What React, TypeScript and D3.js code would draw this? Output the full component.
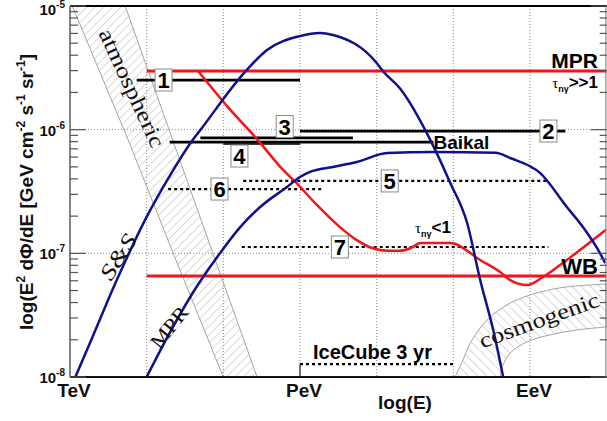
import { useEffect, useRef } from "react"
import * as d3 from "d3"

// x values are log10(E / GeV), y values are E^2 dPhi/dE in GeV cm^-2 s^-1 sr^-1

// S&S model (blue hump)
const ssLogE = [3.07, 3.26, 3.61, 4.0, 4.27, 4.6, 4.7, 5.28, 5.57, 6.0, 6.26, 6.43, 7.0, 7.08, 7.3, 7.7, 7.96, 8.18, 8.35, 8.52, 8.65]
const ssFlux = [1.0e-8, 1.88e-8, 6.08e-8, 1.97e-7, 3.92e-7, 8.24e-7, 9.93e-7, 2.92e-6, 4.41e-6, 5.71e-6, 6.05e-6, 5.83e-6, 3.46e-6, 2.98e-6, 2.17e-6, 8.24e-7, 3.71e-7, 1.76e-7, 6.08e-8, 2.4e-8, 1.0e-8]

// MPR model (lower blue)
const mprLogE = [4.0, 4.3, 4.6, 4.92, 5.22, 5.48, 5.83, 6.0, 6.13, 6.43, 6.74, 7.14, 7.74, 8.55, 8.74, 9.13, 9.48, 9.69, 9.91, 9.98]
const mprFlux = [1.0e-8, 2.27e-8, 4.78e-8, 9.33e-8, 1.63e-7, 2.37e-7, 3.44e-7, 4.14e-7, 4.55e-7, 4.99e-7, 5.48e-7, 6.47e-7, 6.59e-7, 6.5e-7, 5.9e-7, 4.47e-7, 2.37e-7, 1.63e-7, 1.01e-7, 8.36e-8]

// MPR bound for tau_ny < 1 (red curve)
const tauLogE = [4.67, 5.06, 5.45, 5.78, 5.94, 6.22, 6.52, 6.74, 6.95, 7.14, 7.3, 7.44, 7.57, 7.96, 8.35, 8.61, 8.74, 8.96, 9.17, 9.48, 9.82, 9.99]
const tauFlux = [2.98e-6, 1.52e-6, 8.24e-7, 4.72e-7, 3.78e-7, 2.46e-7, 1.63e-7, 1.28e-7, 1.1e-7, 1.05e-7, 1.05e-7, 1.1e-7, 1.21e-7, 1.21e-7, 8.83e-8, 7.06e-8, 6.08e-8, 5.55e-8, 6.44e-8, 8.83e-8, 1.28e-7, 1.55e-7]

// flat bounds (red horizontal)
const boundNames = ["MPR", "WB"]
const boundFrom = [4.0, 4.0]
const boundTo = [10.0, 10.0]
const boundFlux = [2.98e-6, 6.56e-8]

// experimental limits (black)
const limitNames = ["1", "2", "3", "4", "Baikal", "5", "6", "7", "IceCube 3 yr"]
const limitFrom = [3.87, 6.0, 4.7, 5.0, 4.3, 5.26, 4.28, 5.24, 6.0]
const limitTo = [6.0, 9.46, 6.69, 6.0, 7.74, 9.22, 6.3, 9.24, 8.0]
const limitFlux = [2.52e-6, 9.75e-7, 8.57e-7, 7.72e-7, 7.94e-7, 3.85e-7, 3.31e-7, 1.125e-7, 1.27e-8]

// atmospheric band edges
const atmoLeftLogE = [3.03, 3.76, 4.33, 5.0]
const atmoLeftFlux = [1.0e-5, 8.24e-7, 1.06e-7, 1.0e-8]
const atmoRightLogE = [3.72, 4.34, 4.85, 5.44]
const atmoRightFlux = [1.0e-5, 8.24e-7, 1.06e-7, 1.0e-8]

// cosmogenic band edges
const cosmoUpperLogE = [8.02, 8.11, 8.22, 8.44, 8.74, 9.13, 9.48, 10.0]
const cosmoUpperFlux = [1.0e-8, 1.3e-8, 1.88e-8, 2.89e-8, 3.96e-8, 4.86e-8, 5.35e-8, 5.65e-8]
const cosmoLowerLogE = [8.61, 8.64, 8.74, 8.96, 9.26, 9.61, 10.0]
const cosmoLowerFlux = [1.0e-8, 1.21e-8, 1.56e-8, 1.92e-8, 2.19e-8, 2.4e-8, 2.54e-8]

// axis labels
const xTickLogE = [3, 6, 9]
const xTickLabels = ["TeV", "PeV", "EeV"]
const yDecades = [-8, -7, -6, -5]

const zip = (a: number[], b: number[]) => a.map((v, i) => [v, b[i]] as [number, number])

export default function App() {
  const svgRef = useRef<SVGSVGElement>(null)

  useEffect(() => {
    if (!svgRef.current) return
    const svg = d3.select(svgRef.current)
    svg.selectAll("*").remove()

    const left = 70
    const right = 606.7
    const top = 6
    const bottom = 377

    const x = d3.scaleLinear().domain([3, 10]).range([left, right])
    const y = d3.scaleLog().domain([1e-8, 1e-5]).range([bottom, top])

    const sans = "'Liberation Sans', Arial, sans-serif"
    const serif = "'Liberation Serif', 'Times New Roman', serif"
    const red = "#f2161c"
    const blue = "#10108c"

    const defs = svg.append("defs")
    defs
      .append("clipPath")
      .attr("id", "plot-clip")
      .append("rect")
      .attr("x", left)
      .attr("y", top)
      .attr("width", right - left)
      .attr("height", bottom - top)

    const hatch = (id: string, angle: number, size: number) => {
      const p = defs
        .append("pattern")
        .attr("id", id)
        .attr("patternUnits", "userSpaceOnUse")
        .attr("width", size)
        .attr("height", size)
        .attr("patternTransform", `rotate(${angle})`)
      p.append("line")
        .attr("x1", 0)
        .attr("y1", 0)
        .attr("x2", 0)
        .attr("y2", size)
        .attr("stroke", "#a0a0a0")
        .attr("stroke-width", 0.8)
    }
    hatch("hatch-atmo", 45, 6)
    hatch("hatch-cosmo", -45, 6.5)

    // grid
    const grid = svg.append("g")
    d3.range(4, 10).forEach((e) => {
      grid
        .append("line")
        .attr("x1", x(e))
        .attr("x2", x(e))
        .attr("y1", top)
        .attr("y2", bottom)
        .attr("stroke", "#8c8c8c")
        .attr("stroke-width", 1)
        .attr("stroke-dasharray", "1,2")
    })
    ;[1e-7, 1e-6].forEach((v) => {
      grid
        .append("line")
        .attr("x1", left)
        .attr("x2", right)
        .attr("y1", y(v))
        .attr("y2", y(v))
        .attr("stroke", "#8c8c8c")
        .attr("stroke-width", 1)
        .attr("stroke-dasharray", "1,2")
    })

    const plot = svg.append("g").attr("clip-path", "url(#plot-clip)")

    // hatched bands
    const linPoly = d3
      .line<[number, number]>()
      .x((d) => x(d[0]))
      .y((d) => y(d[1]))

    const atmo = [...zip(atmoLeftLogE, atmoLeftFlux), ...zip(atmoRightLogE, atmoRightFlux).reverse()]
    plot
      .append("path")
      .attr("d", linPoly(atmo) + "Z")
      .attr("fill", "url(#hatch-atmo)")
      .attr("stroke", "#a3a3a3")
      .attr("stroke-width", 1)

    const edge = d3
      .line<[number, number]>()
      .x((d) => x(d[0]))
      .y((d) => y(d[1]))
      .curve(d3.curveCatmullRom.alpha(0.5))
    const upper = edge(zip(cosmoUpperLogE, cosmoUpperFlux)) as string
    const lower = edge(zip(cosmoLowerLogE, cosmoLowerFlux).reverse()) as string
    plot
      .append("path")
      .attr("d", upper + "L" + lower.slice(1) + "Z")
      .attr("fill", "url(#hatch-cosmo)")
      .attr("stroke", "#a3a3a3")
      .attr("stroke-width", 1)

    // serif labels on bands / curves
    const serifLabel = (t: string, cx: number, cy: number, angle: number, size: number, len: number, italic = false) => {
      svg
        .append("text")
        .attr("transform", `translate(${cx},${cy}) rotate(${angle})`)
        .attr("text-anchor", "middle")
        .attr("dominant-baseline", "central")
        .attr("font-family", serif)
        .attr("font-size", size)
        .attr("font-style", italic ? "italic" : "normal")
        .attr("textLength", len)
        .attr("lengthAdjust", "spacingAndGlyphs")
        .attr("fill", "#111")
        .text(t)
    }
    serifLabel("atmospheric", 132, 88, 65.2, 22, 128)
    serifLabel("S&S", 118, 257, -57.5, 22, 50, true)
    serifLabel("MPR", 169, 327, -50.6, 20, 48)
    serifLabel("cosmogenic", 539, 320, -19.8, 22, 126)

    // black limits
    const dotted = new Set(["5", "6", "7", "IceCube 3 yr"])
    limitNames.forEach((n, i) => {
      plot
        .append("line")
        .attr("x1", x(limitFrom[i]))
        .attr("x2", x(limitTo[i]))
        .attr("y1", y(limitFlux[i]))
        .attr("y2", y(limitFlux[i]))
        .attr("stroke", n === "4" ? "#3a3a3a" : "#000")
        .attr("stroke-width", dotted.has(n) ? 2.2 : 2.8)
        .attr("stroke-dasharray", dotted.has(n) ? "3,3" : null)
    })
    // IceCube step down to the axis
    plot
      .append("line")
      .attr("x1", x(6))
      .attr("x2", x(6))
      .attr("y1", y(limitFlux[8]))
      .attr("y2", bottom)
      .attr("stroke", "#222")
      .attr("stroke-width", 1.2)

    // red bounds
    boundNames.forEach((n, i) => {
      plot
        .append("line")
        .attr("x1", x(boundFrom[i]))
        .attr("x2", x(boundTo[i]))
        .attr("y1", y(boundFlux[i]))
        .attr("y2", y(boundFlux[i]))
        .attr("stroke", red)
        .attr("stroke-width", 2.8)
        .attr("data-name", n)
    })

    const curve = d3
      .line<[number, number]>()
      .x((d) => x(d[0]))
      .y((d) => y(d[1]))
      .curve(d3.curveMonotoneX)

    plot
      .append("path")
      .attr("d", curve(zip(tauLogE, tauFlux)))
      .attr("fill", "none")
      .attr("stroke", red)
      .attr("stroke-width", 2.5)

    plot
      .append("path")
      .attr("d", curve(zip(ssLogE, ssFlux)))
      .attr("fill", "none")
      .attr("stroke", blue)
      .attr("stroke-width", 2.5)

    plot
      .append("path")
      .attr("d", curve(zip(mprLogE, mprFlux)))
      .attr("fill", "none")
      .attr("stroke", blue)
      .attr("stroke-width", 2.5)

    // frame and axes
    svg.append("line").attr("x1", left).attr("x2", right).attr("y1", top).attr("y2", top).attr("stroke", "#000").attr("stroke-width", 2)
    svg.append("line").attr("x1", left).attr("x2", right).attr("y1", bottom).attr("y2", bottom).attr("stroke", "#111").attr("stroke-width", 2)
    svg.append("line").attr("x1", left).attr("x2", left).attr("y1", top).attr("y2", bottom).attr("stroke", "#666").attr("stroke-width", 1.6)
    svg.append("line").attr("x1", right - 0.8).attr("x2", right - 0.8).attr("y1", top).attr("y2", bottom).attr("stroke", "#888").attr("stroke-width", 1.2)

    const ticks = svg.append("g").attr("stroke", "#555").attr("stroke-width", 1.2)
    yDecades.forEach((d) => {
      const major = y(Math.pow(10, d))
      ticks.append("line").attr("x1", left).attr("x2", left + 16).attr("y1", major).attr("y2", major)
      ticks.append("line").attr("x1", right).attr("x2", right - 16).attr("y1", major).attr("y2", major)
      if (d === -5) return
      d3.range(2, 10).forEach((m) => {
        const yy = y(m * Math.pow(10, d))
        ticks.append("line").attr("x1", left).attr("x2", left + 8).attr("y1", yy).attr("y2", yy)
        ticks.append("line").attr("x1", right).attr("x2", right - 7).attr("y1", yy).attr("y2", yy)
      })
    })

    // y tick labels (top one nudged down so it stays inside the picture)
    yDecades.forEach((d) => {
      const t = svg
        .append("text")
        .attr("x", 65)
        .attr("y", y(Math.pow(10, d)) + (d === -5 ? 9 : 6))
        .attr("text-anchor", "end")
        .attr("font-family", sans)
        .attr("font-weight", "bold")
        .attr("font-size", 15)
        .attr("fill", "#111")
      t.append("tspan").text("10")
      t.append("tspan").attr("dy", -7).attr("font-size", 10).text(String(d))
    })

    // x tick labels
    xTickLogE.forEach((e, i) => {
      svg
        .append("text")
        .attr("x", x(e) + 4)
        .attr("y", 397)
        .attr("text-anchor", "middle")
        .attr("font-family", sans)
        .attr("font-weight", "bold")
        .attr("font-size", 19)
        .attr("fill", "#111")
        .text(xTickLabels[i])
    })

    svg
      .append("text")
      .attr("x", 405)
      .attr("y", 409)
      .attr("text-anchor", "middle")
      .attr("font-family", sans)
      .attr("font-weight", "bold")
      .attr("font-size", 19)
      .attr("fill", "#111")
      .text("log(E)")

    // y title
    const yt = svg
      .append("text")
      .attr("transform", "translate(33,192) rotate(-90)")
      .attr("text-anchor", "middle")
      .attr("font-family", sans)
      .attr("font-weight", "bold")
      .attr("font-size", 19)
      .attr("fill", "#111")
    const parts: [string, boolean][] = [
      ["log(E", false],
      ["2", true],
      [" d\u03a6/dE [GeV cm", false],
      ["-2", true],
      [" s", false],
      ["-1", true],
      [" sr", false],
      ["-1", true],
      ["]", false],
    ]
    parts.forEach(([s, sup], i) => {
      const prevSup = i > 0 && parts[i - 1][1]
      yt.append("tspan")
        .attr("dy", sup ? -8 : prevSup ? 8 : 0)
        .attr("font-size", sup ? 12 : 19)
        .text(s)
    })

    // numbered boxes
    const boxes = [
      { t: "1", e: 4.22, f: 2.52e-6 },
      { t: "2", e: 9.24, f: 9.75e-7 },
      { t: "3", e: 5.8, f: 1.06e-6 },
      { t: "4", e: 5.21, f: 6.12e-7 },
      { t: "5", e: 7.17, f: 3.85e-7 },
      { t: "6", e: 4.95, f: 3.31e-7 },
      { t: "7", e: 6.52, f: 1.125e-7 },
    ]
    boxes.forEach((b) => {
      const cx = x(b.e)
      const cy = y(b.f)
      svg
        .append("rect")
        .attr("x", cx - 8.5)
        .attr("y", cy - 11)
        .attr("width", 17)
        .attr("height", 22)
        .attr("fill", "#fff")
        .attr("stroke", "#8a8a8a")
        .attr("stroke-width", 1)
      svg
        .append("text")
        .attr("x", cx)
        .attr("y", cy + 8)
        .attr("text-anchor", "middle")
        .attr("font-family", sans)
        .attr("font-weight", "bold")
        .attr("font-size", 22)
        .attr("fill", "#000")
        .text(b.t)
    })

    const bold = (t: string, xx: number, yy: number, size: number, anchor = "start") =>
      svg
        .append("text")
        .attr("x", xx)
        .attr("y", yy)
        .attr("text-anchor", anchor)
        .attr("font-family", sans)
        .attr("font-weight", "bold")
        .attr("font-size", size)
        .attr("fill", "#000")
        .text(t)

    bold("Baikal", x(limitTo[4]), y(limitFlux[4]) + 7, 19)
    bold("IceCube 3 yr", 313, 359, 20)
    bold("MPR", 598, 68, 21, "end")
    bold("WB", 598, 274, 22, "end")

    const tauLabel = (xx: number, yy: number, rest: string, anchor: string) => {
      const t = svg
        .append("text")
        .attr("x", xx)
        .attr("y", yy)
        .attr("text-anchor", anchor)
        .attr("fill", "#000")
      t.append("tspan").attr("font-family", serif).attr("font-size", 15).text("\u03c4")
      t.append("tspan").attr("font-family", sans).attr("font-weight", "bold").attr("font-size", 9).attr("dy", 4).text("n\u03b3")
      t.append("tspan").attr("font-family", sans).attr("font-weight", "bold").attr("font-size", 17).attr("dy", -4).text(rest)
    }
    tauLabel(598, 88, ">>1", "end")
    tauLabel(415, 233, "<1", "start")
  }, [])

  return (
    <svg
      ref={svgRef}
      width={607}
      height={421}
      style={{ position: "absolute", left: 0, top: 0, background: "#fff" }}
    />
  )
}
